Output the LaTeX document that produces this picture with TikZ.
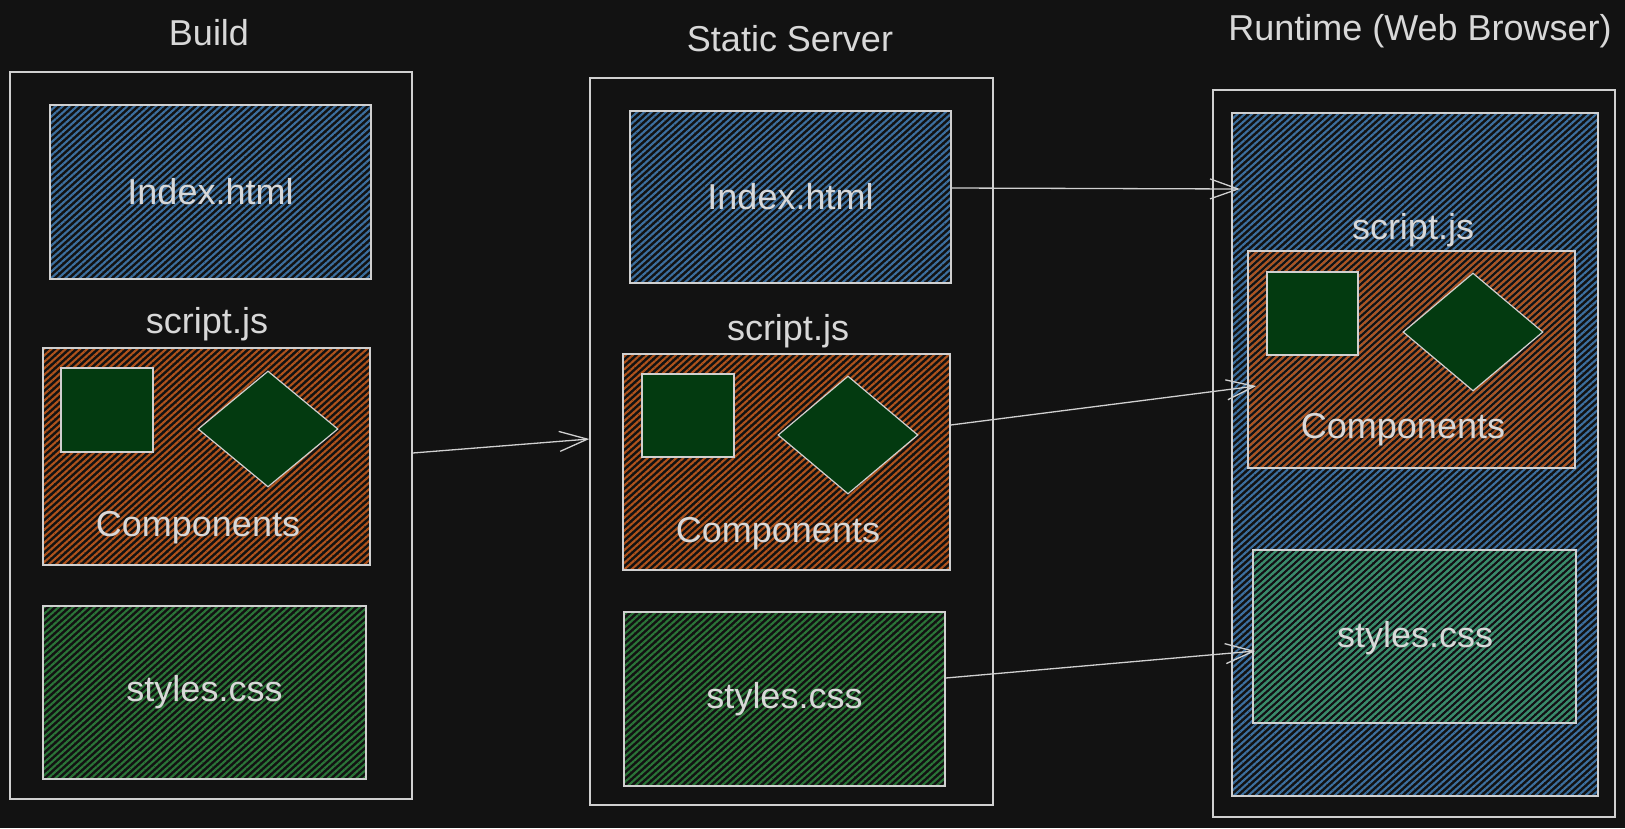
\documentclass[tikz,border=0pt]{standalone}
\usepackage{fontspec}
\setmainfont{Liberation Sans}
\usetikzlibrary{patterns.meta,arrows.meta,shapes.geometric}
\definecolor{bg}{HTML}{121212}
\definecolor{ink}{HTML}{D0D0D0}
\definecolor{txt}{HTML}{D8D8D8}
\definecolor{hblue}{HTML}{3D70A0}
\definecolor{horange}{HTML}{B0531C}
\definecolor{hgreen}{HTML}{2B7538}
\definecolor{hteal}{HTML}{3A8D66}
\definecolor{dgreen}{HTML}{033A10}
\tikzset{
  every node/.style={text=txt, font=\fontsize{36}{40}\selectfont, inner sep=0pt},
  frame/.style={draw=ink, line width=1.4pt, rectangle},
  hatch/.style={draw=ink, line width=1.4pt, rectangle,
     pattern={Lines[angle=42, distance=4.8pt, line width=2.1pt]}, pattern color=#1},
  comp/.style={draw=ink, line width=1.2pt, fill=dgreen},
  lbl/.style={text=txt},
  conn/.style={draw=ink, line width=1.3pt, -{Straight Barb[length=28pt, width=20pt, line width=1.3pt]}},
}
\begin{document}
\begin{tikzpicture}[x=1pt,y=-1pt]
\fill[bg] (0,0) rectangle (1625,828);
\useasboundingbox (0,0) rectangle (1625,828);

% ---------- Build ----------
\node[lbl] (tb) at (209,33) {Build};
\node[frame, minimum width=402pt, minimum height=727pt] (bout) at (211,435.5) {};
\node[hatch=hblue, minimum width=321pt, minimum height=174pt] (bidx) at (210.5,192) {Index.html};
\node[lbl] (bscr) at (207,324) {script.js};
\node[hatch=horange, minimum width=327pt, minimum height=217pt] (borg) at (206.5,456.5) {};
\node[comp, rectangle, minimum width=92pt, minimum height=84pt] (bsq) at (107,410) {};
\node[comp, diamond, minimum width=140pt, minimum height=116pt] (bdia) at (268,429) {};
\node[lbl] (bcmp) at (198,528) {Components};
\node[hatch=hgreen, minimum width=323pt, minimum height=173pt] (bsty) at (204.5,692.5) {styles.css};

% ---------- Static Server ----------
\node[lbl] (ts) at (790,39) {Static Server};
\node[frame, minimum width=403pt, minimum height=727pt] (sout) at (791.5,441.5) {};
\node[hatch=hblue, minimum width=321pt, minimum height=172pt] (sidx) at (790.5,197) {Index.html};
\node[lbl] (sscr) at (788,331) {script.js};
\node[hatch=horange, minimum width=327pt, minimum height=216pt] (sorg) at (786.5,462) {};
\node[comp, rectangle, minimum width=92pt, minimum height=83pt] (ssq) at (688,415.5) {};
\node[comp, diamond, minimum width=140pt, minimum height=118pt] (sdia) at (848,435) {};
\node[lbl] (scmp) at (778,534) {Components};
\node[hatch=hgreen, minimum width=321pt, minimum height=174pt] (ssty) at (784.5,699) {styles.css};

% ---------- Runtime ----------
\node[lbl] (tr) at (1420,31) {Runtime (Web Browser)};
\node[frame, minimum width=402pt, minimum height=727pt] (rout) at (1414,453.5) {};
\node[hatch=hblue, minimum width=366pt, minimum height=683pt] (rblue) at (1415,454.5) {};
\node[lbl] (rscr) at (1413,230) {script.js};
\node[hatch=horange, minimum width=327pt, minimum height=217pt] (rorg) at (1411.5,359.5) {};
\node[comp, rectangle, minimum width=91pt, minimum height=83pt] (rsq) at (1312.5,313.5) {};
\node[comp, diamond, minimum width=140pt, minimum height=118pt] (rdia) at (1473,332) {};
\node[lbl] (rcmp) at (1403,430) {Components};
\node[hatch=hteal, minimum width=323pt, minimum height=173pt] (rsty) at (1414.5,636.5) {};
\node[lbl] (rstyt) at (1415,638) {styles.css};

% ---------- connectors ----------
\coordinate (rin) at (1240,189);
\draw[conn] ([yshift=-17.5pt]bout.east) -- ([yshift=2.5pt]sout.west);
\draw[conn] ([yshift=9pt]sidx.east) -- (rin);
\draw[conn] ([yshift=37pt]sorg.east) -- ([xshift=9pt,yshift=-26.5pt]rorg.west);
\draw[conn] ([yshift=21pt]ssty.east) -- ([xshift=3pt,yshift=-14.5pt]rsty.west);
\end{tikzpicture}
\end{document}
